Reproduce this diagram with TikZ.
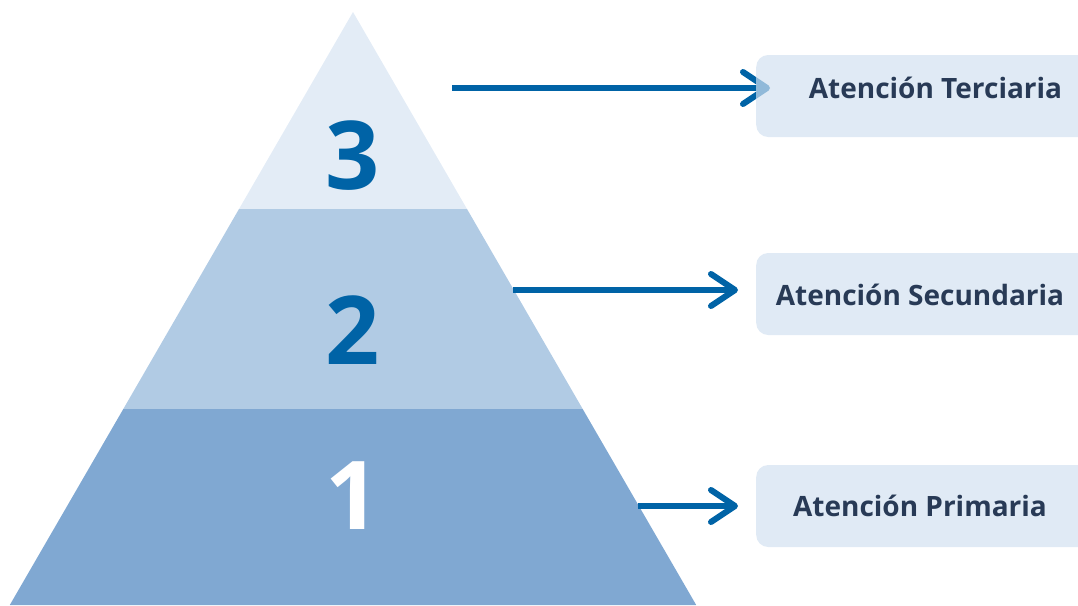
\documentclass[tikz,border=0pt]{standalone}
\usepackage{fontspec}
\setmainfont{Open Sans}
\usetikzlibrary{arrows.meta}
\definecolor{bandTop}{HTML}{E3ECF6}
\definecolor{bandMid}{HTML}{B1CBE4}
\definecolor{bandLow}{HTML}{80A8D2}
\definecolor{arrowBlue}{HTML}{0063A6}
\definecolor{boxFill}{RGB}{210,225,240}
\definecolor{labelInk}{HTML}{283A56}
\tikzset{
  band/.style={draw=none},
  levelnum/.style={inner sep=0pt, font=\fontsize{95}{95}\selectfont\bfseries},
  connector/.style={draw=arrowBlue, line width=6pt, -{Straight Barb[length=24pt,width=32pt,round]}},
  infobox/.style={draw=none, fill=boxFill, fill opacity=0.69, rounded corners=12pt,
    minimum width=340pt, minimum height=82pt, anchor=west, inner sep=0pt},
  boxlabel/.style={inner sep=0pt, anchor=base, text=labelInk, font=\fontsize{28}{28}\selectfont\bfseries}
}
\begin{document}
\begin{tikzpicture}[x=1pt,y=-1pt]
\useasboundingbox (0,0) rectangle (1078,605);
\clip (0,0) rectangle (1078,605);
% pyramid bands
\fill[band, bandTop] (353,12) -- (467,209) -- (239,209) -- cycle;
\fill[band, bandMid] (239,209) -- (467,209) -- (582.7,409) -- (123.3,409) -- cycle;
\fill[band, bandLow] (123.3,409) -- (582.7,409) -- (696.2,605) -- (9.8,605) -- cycle;
% level numbers
\node[levelnum, text=arrowBlue] (n3) at (353,156) {3};
\node[levelnum, text=arrowBlue] (n2) at (353,330) {2};
\node[levelnum, text=white] (n1) at (353,496) {1};
% connector endpoints
\coordinate (sT) at (452,88);
\coordinate (eT) at (770,88);
\coordinate (sM) at (513,290);
\coordinate (eM) at (738,290);
\coordinate (sL) at (638,506);
\coordinate (eL) at (738,506);
\draw[connector] (sT) -- (eT);
\draw[connector] (sM) -- (eM);
\draw[connector] (sL) -- (eL);
% boxes
\node[infobox] (bT) at (756,96) {};
\node[infobox] (bM) at (756,294) {};
\node[infobox] (bL) at (756,506) {};
\node[boxlabel] (lT) at (935.5,98) {Atención Terciaria};
\node[boxlabel] (lM) at (920,305) {Atención Secundaria};
\node[boxlabel] (lL) at (920,516) {Atención Primaria};
\end{tikzpicture}
\end{document}
